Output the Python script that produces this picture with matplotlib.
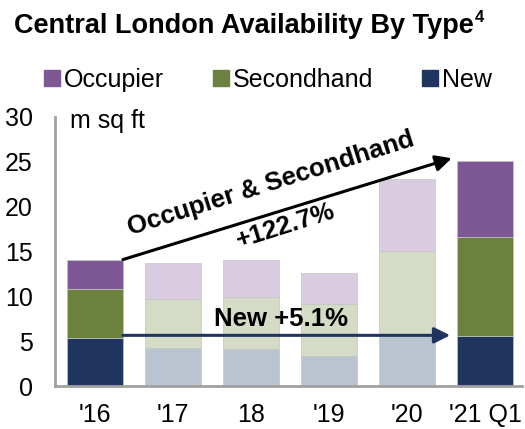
import numpy as np
import matplotlib
matplotlib.use("Agg")
import matplotlib.pyplot as plt
from matplotlib.patches import Patch

plt.rcParams["font.family"] = ["Liberation Sans", "DejaVu Sans"]

# Data (m sq ft)
years = ["'16", "'17", "18", "'19", "'20", "'21 Q1"]
new = [5.3, 4.2, 4.15, 3.4, 5.6, 5.6]
secondhand = [5.55, 5.5, 5.8, 5.75, 9.45, 11.0]
occupier = [3.25, 4.0, 4.1, 3.4, 8.05, 8.5]
highlight = [True, False, False, False, False, True]

# Colours: full and faded
col_full = {"occ": "#7e5894", "sec": "#6b823e", "new": "#1f3560"}
col_fade = {"occ": "#d9cce0", "sec": "#d5dcc6", "new": "#bac3d0"}

x = np.arange(len(years))
w = 0.72
new = np.array(new)
secondhand = np.array(secondhand)
occupier = np.array(occupier)
total = new + secondhand + occupier

fig = plt.figure(figsize=(5.25, 4.29), dpi=100)
ax = fig.add_axes([55 / 525, 43 / 429, 467 / 525, 269 / 429])

for i in range(len(years)):
    c = col_full if highlight[i] else col_fade
    ax.bar(x[i], new[i], w, color=c["new"], edgecolor="#c4c4c4", linewidth=0.5)
    ax.bar(x[i], secondhand[i], w, bottom=new[i], color=c["sec"], edgecolor="#c4c4c4", linewidth=0.5)
    ax.bar(x[i], occupier[i], w, bottom=new[i] + secondhand[i], color=c["occ"],
           edgecolor="#c4c4c4", linewidth=0.5)

ax.set_xlim(-0.51, 5.47)
ax.set_ylim(0, 30)
ax.set_yticks([0, 5, 10, 15, 20, 25, 30])
ax.set_xticks(x)
ax.set_xticklabels(years)
ax.tick_params(axis="both", length=0, labelsize=18)
ax.tick_params(axis="y", pad=16)
ax.tick_params(axis="x", pad=12)
for s in ["top", "right"]:
    ax.spines[s].set_visible(False)
for s in ["left", "bottom"]:
    ax.spines[s].set_color("#a0a0a0")
    ax.spines[s].set_linewidth(2)

ax.text(-0.32, 29.6, "m sq ft", fontsize=18, va="center", ha="left")

# Arrows
ax.annotate("", xy=(4.57, 25.4), xytext=(w / 2, total[0]),
            arrowprops=dict(arrowstyle="-|>", color="black", lw=2.2,
                            mutation_scale=24, shrinkA=0, shrinkB=0))
ax.annotate("", xy=(4.55, 5.65), xytext=(w / 2, 5.65),
            arrowprops=dict(arrowstyle="-|>", color="#1f3560", lw=2.2,
                            mutation_scale=24, shrinkA=0, shrinkB=0))

ax.text(2.26, 22.6, "Occupier & Secondhand", fontsize=18.5, fontweight="bold",
        rotation=17.5, rotation_mode="anchor", ha="center", va="center")
ax.text(2.44, 17.9, "+122.7%", fontsize=18.5, fontweight="bold",
        rotation=17.5, rotation_mode="anchor", ha="center", va="center")
ax.text(2.38, 7.5, "New +5.1%", fontsize=18.5, fontweight="bold",
        ha="center", va="center")

# Title
fig.text(14 / 525, 1 - 33 / 429, "Central London Availability By Type",
         fontsize=19.5, fontweight="bold", va="baseline", ha="left")
fig.text(475 / 525, 1 - 22 / 429, "4", fontsize=12, fontweight="bold",
         va="baseline", ha="left")

# Legend
handles = [Patch(color=col_full["occ"], label="Occupier"),
           Patch(color=col_full["sec"], label="Secondhand"),
           Patch(color=col_full["new"], label="New")]
fig.legend(handles=handles, ncol=3, loc="center left",
           bbox_to_anchor=(44 / 525, 1 - 80 / 429), frameon=False,
           fontsize=18, handlelength=0.64, handleheight=0.64,
           handletextpad=0.16, columnspacing=1.95, borderpad=0,
           borderaxespad=0)

plt.savefig("out.png", dpi=100)
